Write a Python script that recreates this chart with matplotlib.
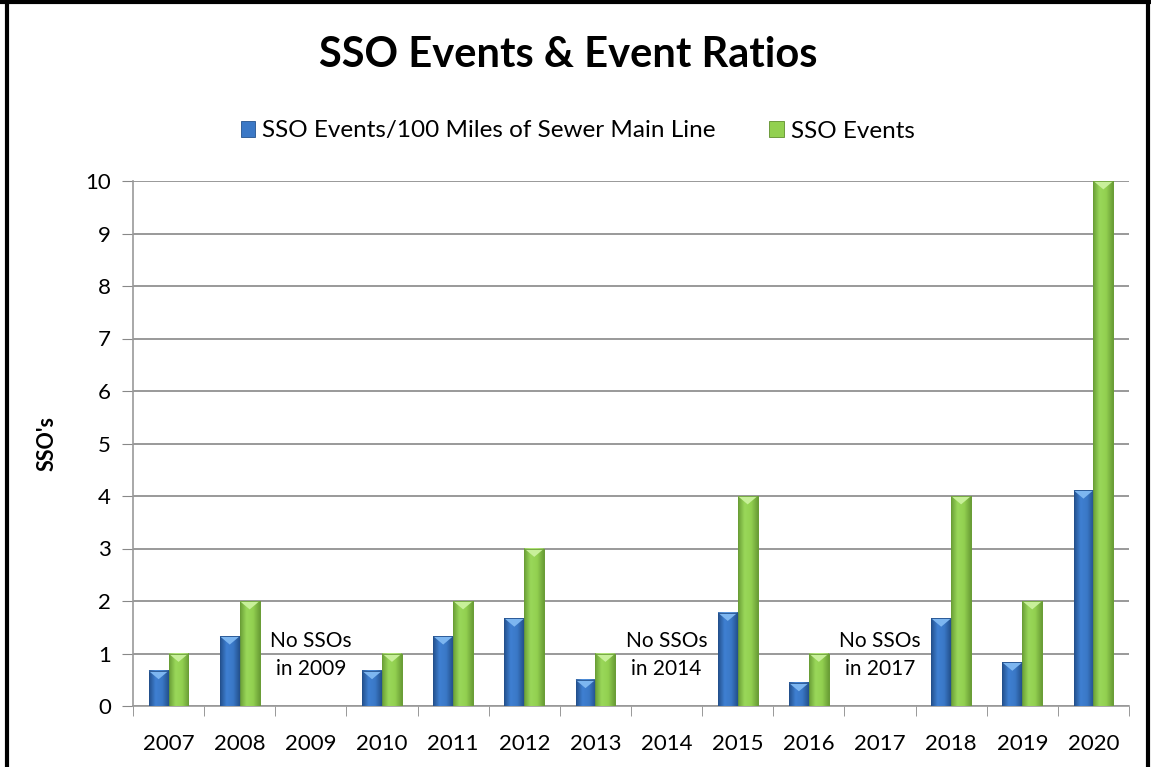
import numpy as np
import matplotlib.pyplot as plt
from matplotlib.patches import Rectangle, Polygon
from matplotlib.colors import LinearSegmentedColormap
from matplotlib.lines import Line2D

years = ["2007", "2008", "2009", "2010", "2011", "2012", "2013",
         "2014", "2015", "2016", "2017", "2018", "2019", "2020"]
per_100_miles = [0.67, 1.33, 0, 0.67, 1.33, 1.67, 0.5,
                 0, 1.78, 0.44, 0, 1.67, 0.83, 4.11]
events = [1, 2, 0, 1, 2, 3, 1, 0, 4, 1, 0, 4, 2, 10]
no_sso_years = ["2009", "2014", "2017"]

plt.rcParams['font.family'] = ['Lato', 'DejaVu Sans']

fig = plt.figure(figsize=(11.51, 7.67), dpi=100)
ax = fig.add_axes([133 / 1151, 61 / 767, 996 / 1151, 525 / 767])

x = np.arange(len(years))
w = 0.28
b1 = ax.bar(x - w / 2, per_100_miles, w, color="#3b78c6", edgecolor="#24528e",
            linewidth=0.6, zorder=3, label="SSO Events/100 Miles of Sewer Main Line")
b2 = ax.bar(x + w / 2, events, w, color="#92d050", edgecolor="#5f8f2c",
            linewidth=0.6, zorder=3, label="SSO Events")

# cylinder-ish shading and bevelled top, like the spreadsheet style
shades = [
    (b1, ["#23508c", "#3f80d2", "#3a78c6", "#23508c"], "#7db6f0"),
    (b2, ["#6a9e36", "#9ad85a", "#92d050", "#6a9e36"], "#c8f09a"),
]
grad = np.linspace(0, 1, 64).reshape(1, -1)
for bars, cols, light in shades:
    cmap = LinearSegmentedColormap.from_list("c", cols)
    for r in bars:
        h = r.get_height()
        if h <= 0:
            continue
        x0, x1 = r.get_x(), r.get_x() + r.get_width()
        ax.imshow(grad, cmap=cmap, extent=[x0, x1, 0, h], aspect="auto",
                  zorder=3.5, interpolation="bicubic")
        cap = min(0.16, h)
        ax.add_patch(Polygon([(x0, h), (x1, h), ((x0 + x1) / 2, h - cap)],
                             closed=True, color=light, zorder=4, linewidth=0))
        ax.add_patch(Rectangle((x0, 0), x1 - x0, h, fill=False,
                               edgecolor=cols[0], linewidth=0.6, zorder=4.5))

for yr in no_sso_years:
    i = years.index(yr)
    ax.text(i, 0.97, "No SSOs\nin " + yr, ha="center", va="center",
            fontsize=15, linespacing=1.55, zorder=5)

ax.set_xlim(-0.5, len(years) - 0.5)
ax.set_ylim(0, 10)
ax.set_yticks(range(0, 11))
ax.set_xticks(x)
ax.set_xticklabels(years, fontsize=16)
ax.set_xticks(np.arange(-0.5, len(years), 1), minor=True)
ax.tick_params(axis="x", which="major", length=0, pad=20)
ax.tick_params(axis="x", which="minor", length=7, color="#888888")
ax.tick_params(axis="y", labelsize=16, length=8, color="#888888", pad=8)
ax.yaxis.grid(True, color="#888888", linewidth=1.2, zorder=0)
for s in ["top", "right"]:
    ax.spines[s].set_visible(False)
for s in ["left", "bottom"]:
    ax.spines[s].set_color("#999999")
    ax.spines[s].set_linewidth(1.2)
ax.set_ylabel("SSO's", fontsize=15.5, fontweight="bold", labelpad=20)

fig.text(0.494, 1 - 55 / 767, "SSO Events & Event Ratios", ha="center", va="center",
         fontsize=30, fontweight="bold")
fig.legend(handles=[b1, b2], loc="center", bbox_to_anchor=(0.502, 1 - 131 / 767),
           ncol=2, frameon=False, fontsize=17.5, handlelength=0.6,
           handleheight=0.6, columnspacing=2.2, handletextpad=0.3)

# outer frame (left, top, right)
for xs, ys in (([0.006, 0.006], [0, 1]), ([0, 1], [0.997, 0.997]), ([0.9975, 0.9975], [0, 1])):
    fig.add_artist(Line2D(xs, ys, transform=fig.transFigure, color="black", linewidth=3))

fig.savefig("out.png", dpi=100)
